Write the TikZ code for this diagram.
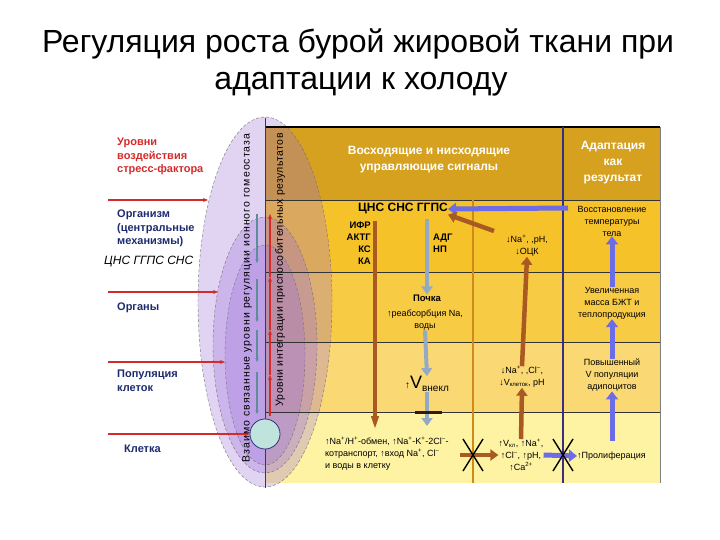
\documentclass[tikz,border=0pt]{standalone}
\usepackage{fontspec}
\setmainfont{Liberation Sans}
\usetikzlibrary{arrows.meta, shapes.geometric}
\definecolor{hdrgold}{HTML}{D5A11E}
\definecolor{rowgold}{HTML}{F6C22A}
\definecolor{rowgoldlt}{HTML}{F8CB45}
\definecolor{rowpale}{HTML}{FAD873}
\definecolor{rowcream}{HTML}{FEF3A2}
\definecolor{lavender}{HTML}{9B6FD8}
\definecolor{stressred}{HTML}{D42A2A}
\definecolor{navytext}{HTML}{1E2A6E}
\definecolor{colnavy}{HTML}{3A2E7E}
\definecolor{colorange}{HTML}{CF8A1C}
\definecolor{cbrown}{HTML}{A85A22}
\definecolor{cblue}{HTML}{6C6CE6}
\definecolor{csteel}{HTML}{93A9C4}
\definecolor{cteal}{HTML}{5E8C98}
\definecolor{cellfill}{HTML}{BFE4DE}

\begin{document}
\begin{tikzpicture}[x=1pt, y=-1pt,
    title/.style={font=\fontsize{32}{40}\selectfont, anchor=base, inner sep=0pt},
    lvl/.style={font=\fontsize{11}{13.5}\selectfont\bfseries, align=left, anchor=north west, inner sep=0pt},
    hdr/.style={font=\fontsize{12}{16}\selectfont\bfseries, text=white, align=center, inner sep=0pt},
    txt/.style={font=\fontsize{9}{12}\selectfont, align=center, inner sep=0pt},
    btxt/.style={font=\fontsize{9.5}{12}\selectfont\bfseries, inner sep=0pt},
    vtext/.style={rotate=90, inner sep=0pt},
    oval/.style={fill=lavender, fill opacity=0.3, draw=black!55, densely dashed, thin},
    rowline/.style={draw=black!80, line width=0.6pt},
    redarr/.style={-{Stealth[length=5pt, width=4pt]}, draw=stressred, line width=1.3pt},
    tealarr/.style={-{Stealth[length=4pt, width=3.5pt]}, draw=cteal, line width=1.6pt},
    brownarr/.style={-{Triangle[length=8pt, width=11pt]}, draw=cbrown, line width=4.5pt},
    bluearr/.style={-{Triangle[length=8pt, width=12pt]}, draw=cblue, line width=5pt},
    steelarr/.style={-{Triangle[length=8pt, width=11pt]}, draw=csteel, line width=4pt},
    xmark/.style={draw=black, line width=1.4pt}]

  \useasboundingbox (0,0) rectangle (720,540);

  % Title
  \node[title] (t1) at (358,53) {Регуляция роста бурой жировой ткани при};
  \node[title] (t2) at (361,90) {адаптации к холоду};

  % Table rows
  \fill[hdrgold] (265,127) rectangle (660,200);
  \fill[rowgold] (265,200) rectangle (660,272);
  \fill[rowgoldlt] (265,272) rectangle (660,342);
  \fill[rowpale] (265,342) rectangle (660,412);
  \fill[rowcream] (265,412) rectangle (660,483);

  % Nested levels
  \path[oval] (265,302) ellipse [x radius=67pt, y radius=185pt];
  \path[oval] (265,345) ellipse [x radius=52pt, y radius=128pt];
  \path[oval] (265,355) ellipse [x radius=40pt, y radius=110pt];

  % Grid
  \draw[black, line width=1.2pt] (265,127) -- (660,127);
  \draw[rowline] (265,200) -- (660,200);
  \draw[rowline] (265,272) -- (660,272);
  \draw[rowline] (265,342) -- (660,342);
  \draw[rowline] (265,412) -- (660,412);
  \draw[black!50, line width=0.8pt] (660,127) -- (660,483);
  \draw[colorange, line width=1.5pt] (473,200) -- (473,483);
  \draw[colnavy, line width=1.2pt] (563,127) -- (563,483);
  \draw[colnavy, line width=1pt] (265,118) -- (265,488);

  % Left labels
  \node[lvl, text=stressred] (stress) at (117,138) {Уровни\\воздействия\\стресс-фактора};
  \node[lvl, text=navytext] (org) at (117,210) {Организм\\(центральные\\механизмы)};
  \node[font=\fontsize{12}{14}\selectfont\itshape, anchor=north west, inner sep=0pt] (cnsl) at (104,256) {ЦНС ГГПС СНС};
  \node[lvl, text=navytext] (organs) at (117,303) {Органы};
  \node[lvl, text=navytext] (popl) at (117,370) {Популяция\\клеток};
  \node[lvl, text=navytext] (celll) at (124,445) {Клетка};

  % Cell
  \node[circle, draw=colnavy, fill=cellfill, minimum size=30pt, inner sep=0pt, line width=0.8pt] (cellc) at (265,434) {};

  % Red level arrows
  \coordinate (ra1) at (108,200); \coordinate (rb1) at (208,200);
  \coordinate (ra2) at (108,292); \coordinate (rb2) at (218,292);
  \coordinate (ra3) at (108,362); \coordinate (rb3) at (225,362);
  \coordinate (ra4) at (108,434);
  \draw[redarr] (ra1) -- (rb1);
  \draw[redarr] (ra2) -- (rb2);
  \draw[redarr] (ra3) -- (rb3);
  \draw[redarr] (ra4) -- (cellc.west);

  % Vertical captions
  \node[vtext, font=\fontsize{10.5}{12}\selectfont\addfontfeature{LetterSpace=10}] (vt1) at (247,298) {Взаимо связанные уровни регуляции ионного гомеостаза};
  \node[vtext, font=\fontsize{10.5}{12}\selectfont\addfontfeature{LetterSpace=4}] (vt2) at (280,270) {Уровни интеграции приспособительных результатов};

  % Down arrows (regulation)
  \coordinate (d1) at (257,214); \coordinate (d2) at (257,263);
  \coordinate (d3) at (257,279); \coordinate (d4) at (257,322);
  \coordinate (d5) at (257,330); \coordinate (d6) at (257,362);
  \coordinate (d7) at (257,372); \coordinate (d8) at (257,414);
  \draw[tealarr] (d1) -- (d2);
  \draw[tealarr] (d3) -- (d4);
  \draw[tealarr] (d5) -- (d6);
  \draw[tealarr] (d7) -- (d8);

  % Up arrows (integration)
  \coordinate (u1) at (270,416); \coordinate (u2) at (270,375);
  \coordinate (u3) at (270,330); \coordinate (u4) at (270,277);
  \coordinate (u5) at (270,214);
  \draw[redarr] (u1) -- (u2);
  \draw[redarr] (u2) -- (u3);
  \draw[redarr] (u3) -- (u4);
  \draw[redarr] (u4) -- (u5);

  % Header
  \node[hdr] (hsig) at (429,160) {Восходящие и нисходящие\\управляющие сигналы};
  \node[hdr] (hres) at (613,163) {Адаптация\\как\\результат};

  % Signals column
  \node[font=\fontsize{12}{14}\selectfont\bfseries, inner sep=0pt] (cns) at (403,209) {ЦНС СНС ГГПС};
  \node[btxt, align=right, anchor=north east] (horm) at (371,222) {ИФР\\АКТГ\\КС\\КА};
  \node[btxt, align=left, anchor=north west] (adg) at (433,234) {АДГ\\НП};
  \node[btxt] (kidney) at (427,298) {Почка};
  \node[txt] (reab) at (425,320) {↑реабсорбция Na,\\воды};
  \node[inner sep=0pt] (vext) at (427,384) {\fontsize{10}{12}\selectfont↑\fontsize{18}{20}\selectfont V\fontsize{10}{12}\selectfont\raisebox{-3pt}{внекл}};
  \node[txt, align=left, anchor=north west] (transp) at (325,437) {↑Na\textsuperscript{+}/H\textsuperscript{+}-обмен, ↑Na\textsuperscript{+}-K\textsuperscript{+}-2Cl\textsuperscript{–}-\\котранспорт, ↑вход Na\textsuperscript{+}, Cl\textsuperscript{–}\\и воды в клетку};

  \node[txt] (nah) at (527,246) {↓Na\textsuperscript{+}, ,pH,\\↓ОЦК};
  \node[txt] (nacl) at (522,377) {↓Na\textsuperscript{+}, ,Cl\textsuperscript{–},\\↓V\textsubscript{клеток}, pH};
  \node[txt] (cion) at (521,455) {↑V\textsubscript{кл}, ↑Na\textsuperscript{+},\\↑Cl\textsuperscript{–}, ↑pH,\\↑Ca\textsuperscript{2+}};

  % Result column
  \node[txt] (rest) at (612,221) {Восстановление\\температуры\\тела};
  \node[txt] (bat) at (612,303) {Увеличенная\\масса БЖТ и\\теплопродукция};
  \node[txt] (adipo) at (612,375) {Повышенный\\V популяции\\адипоцитов};
  \node[txt, anchor=west] (prol) at (577,456) {↑Пролиферация};

  % Signal arrows
  \coordinate (tb) at (568,208);
  \draw[bluearr] (tb) -- (cns.east);
  \coordinate (nb) at (494,231);
  \draw[brownarr] (nb) -- (cns.south east);
  \coordinate (hs) at (375,221); \coordinate (he) at (375,430);
  \draw[-{Triangle[length=14pt, width=7pt]}, draw=cbrown, line width=4.5pt] (hs) -- (he);
  \coordinate (as) at (427,219);
  \draw[steelarr] (as) -- (kidney.north);
  \draw[steelarr] (reab.south) -- (vext.north);
  \coordinate (ve) at (427,426);
  \draw[steelarr] (vext.south) -- (ve);
  \draw[draw=black!70!cbrown, line width=3pt] (415,412) -- (442,412);

  \draw[brownarr] (nacl.north) -- (nah.south);
  \draw[brownarr] (cion.north) -- (nacl.south);
  \coordinate (bx) at (460,455);
  \draw[brownarr] (bx) -- (cion.west);
  \draw[xmark] (473,455) +(-10,-16) -- +(10,16) +(10,-16) -- +(-10,16);

  \draw[bluearr] (cion.east) -- (prol.west);
  \draw[xmark] (563,455) +(-10,-16) -- +(10,16) +(10,-16) -- +(-10,16);

  \draw[bluearr] (bat.north) -- (rest.south);
  \draw[bluearr] (adipo.north) -- (bat.south);
  \coordinate (pb) at (612,441);
  \draw[bluearr] (pb) -- (adipo.south);
\end{tikzpicture}
\end{document}
